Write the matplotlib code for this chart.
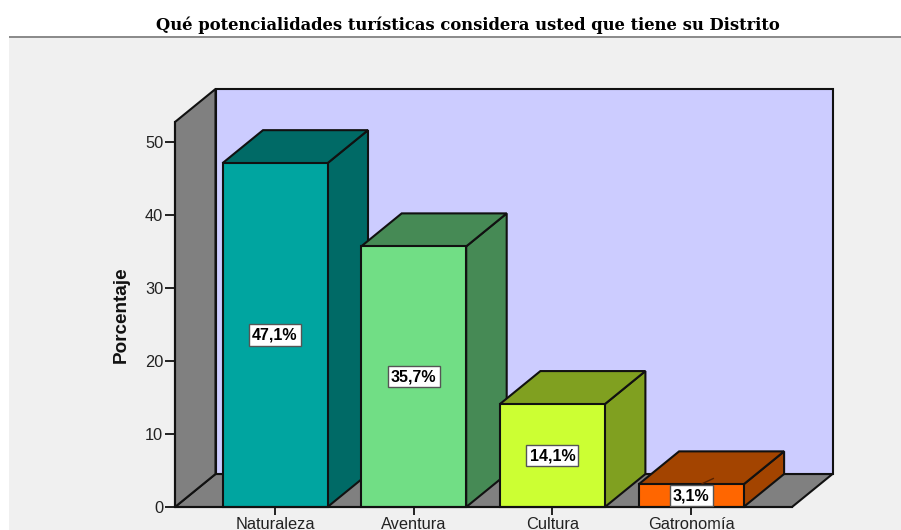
import matplotlib
matplotlib.use("Agg")
import matplotlib.pyplot as plt
from matplotlib.patches import Rectangle, Polygon

title = "Qué potencialidades turísticas considera usted que tiene su Distrito"
ylabel = "Porcentaje"
categories = ["Naturaleza", "Aventura", "Cultura", "Gatronomía"]
values = [47.1, 35.7, 14.1, 3.1]
value_labels = ["47,1%", "35,7%", "14,1%", "3,1%"]
front_colors = ["#00a5a0", "#71de85", "#ccff33", "#ff6600"]
side_colors = ["#006a66", "#468a55", "#80a020", "#a34400"]
yticks = [0, 10, 20, 30, 40, 50]

W, H = 901, 530
fig = plt.figure(figsize=(W / 100, H / 100), dpi=100, facecolor="white")

# chart frame band and rule
fig.add_artist(Rectangle((9 / W, 0), (W - 9) / W, (H - 37) / H, transform=fig.transFigure,
                         facecolor="#f0f0f0", edgecolor="none", zorder=-2))
fig.add_artist(Rectangle((9 / W, (H - 38) / H), (W - 9) / W, 2 / H, transform=fig.transFigure,
                         facecolor="#8c8c8c", edgecolor="none", zorder=-1))

# plot area in pixels
left, right, base, top = 175, 792, 507, 122
ax = fig.add_axes([left / W, (H - base) / H, (right - left) / W, (base - top) / H])
ax.set_facecolor("none")
px_x = 138.7
px_y = 7.3
ax.set_xlim(-(275 - left) / px_x, (right - 275) / px_x)
ax.set_ylim(0, (base - top) / px_y)
xmin, xmax = ax.get_xlim()
ymin, ymax = ax.get_ylim()
dx = 40.5 / px_x
dy = 33 / px_y
bar_w = 105 / px_x
edge = "#111111"
lw = 1.5

# walls and floor
ax.add_patch(Polygon([(xmin, 0), (xmax, 0), (xmax + dx, dy), (xmin + dx, dy)],
                     closed=True, facecolor="#808080", edgecolor=edge, lw=lw, clip_on=False, zorder=1))
ax.add_patch(Polygon([(xmin + dx, dy), (xmax + dx, dy), (xmax + dx, ymax + dy), (xmin + dx, ymax + dy)],
                     closed=True, facecolor="#ccccff", edgecolor=edge, lw=lw, clip_on=False, zorder=1))
ax.add_patch(Polygon([(xmin, 0), (xmin + dx, dy), (xmin + dx, ymax + dy), (xmin, ymax)],
                     closed=True, facecolor="#808080", edgecolor=edge, lw=lw, clip_on=False, zorder=1))

# 3-D bars
for i, (v, fc, sc) in enumerate(zip(values, front_colors, side_colors)):
    z = 2 + i
    x0, x1 = i - bar_w / 2, i + bar_w / 2
    ax.add_patch(Polygon([(x1, 0), (x1 + dx, dy), (x1 + dx, v + dy), (x1, v)], closed=True,
                         facecolor=sc, edgecolor=edge, lw=lw, clip_on=False, zorder=z))
    ax.add_patch(Polygon([(x0, v), (x1, v), (x1 + dx, v + dy), (x0 + dx, v + dy)], closed=True,
                         facecolor=sc, edgecolor=edge, lw=lw, clip_on=False, zorder=z))
    ax.bar(i, v, width=bar_w, color=fc, edgecolor=edge, linewidth=lw, zorder=z, clip_on=False)
    ax.text(i, v / 2, value_labels[i], ha="center", va="center", fontsize=11.5, fontweight="bold",
            family="Liberation Sans", color="black", zorder=10,
            bbox=dict(boxstyle="square,pad=0.2", facecolor="white", edgecolor="#555555", linewidth=1))

# leader of the smallest bar's label
i = len(values) - 1
ax.plot([i + 0.08, i + 0.16], [values[i] + 0.1, values[i] + 0.8], color="#552200", lw=1, zorder=9, clip_on=False)

for s in ["top", "right"]:
    ax.spines[s].set_visible(False)
for s in ["left", "bottom"]:
    ax.spines[s].set_linewidth(lw)
    ax.spines[s].set_color(edge)
    ax.spines[s].set_zorder(8)

ax.set_xticks(range(len(categories)))
ax.set_xticklabels(categories, family="Liberation Sans", fontsize=11.8, color="#222222")
ax.set_yticks(yticks)
ax.set_yticklabels([str(t) for t in yticks], family="Liberation Sans", fontsize=11.8, color="#222222")
ax.tick_params(axis="y", length=7, width=1.3, color=edge, pad=1.5)
ax.tick_params(axis="x", length=6, width=1.3, color=edge, pad=1.5)

fig.text(121 / W, (H - 315) / H, ylabel, rotation=90, ha="center", va="center",
         family="Liberation Sans", fontweight="bold", fontsize=13.6, color="#111111")
fig.text(468 / W, (H - 25) / H, title, ha="center", va="center",
         family="DejaVu Serif", fontweight="bold", fontsize=11.8, color="black")

fig.savefig("out.png", dpi=100, facecolor="white")
